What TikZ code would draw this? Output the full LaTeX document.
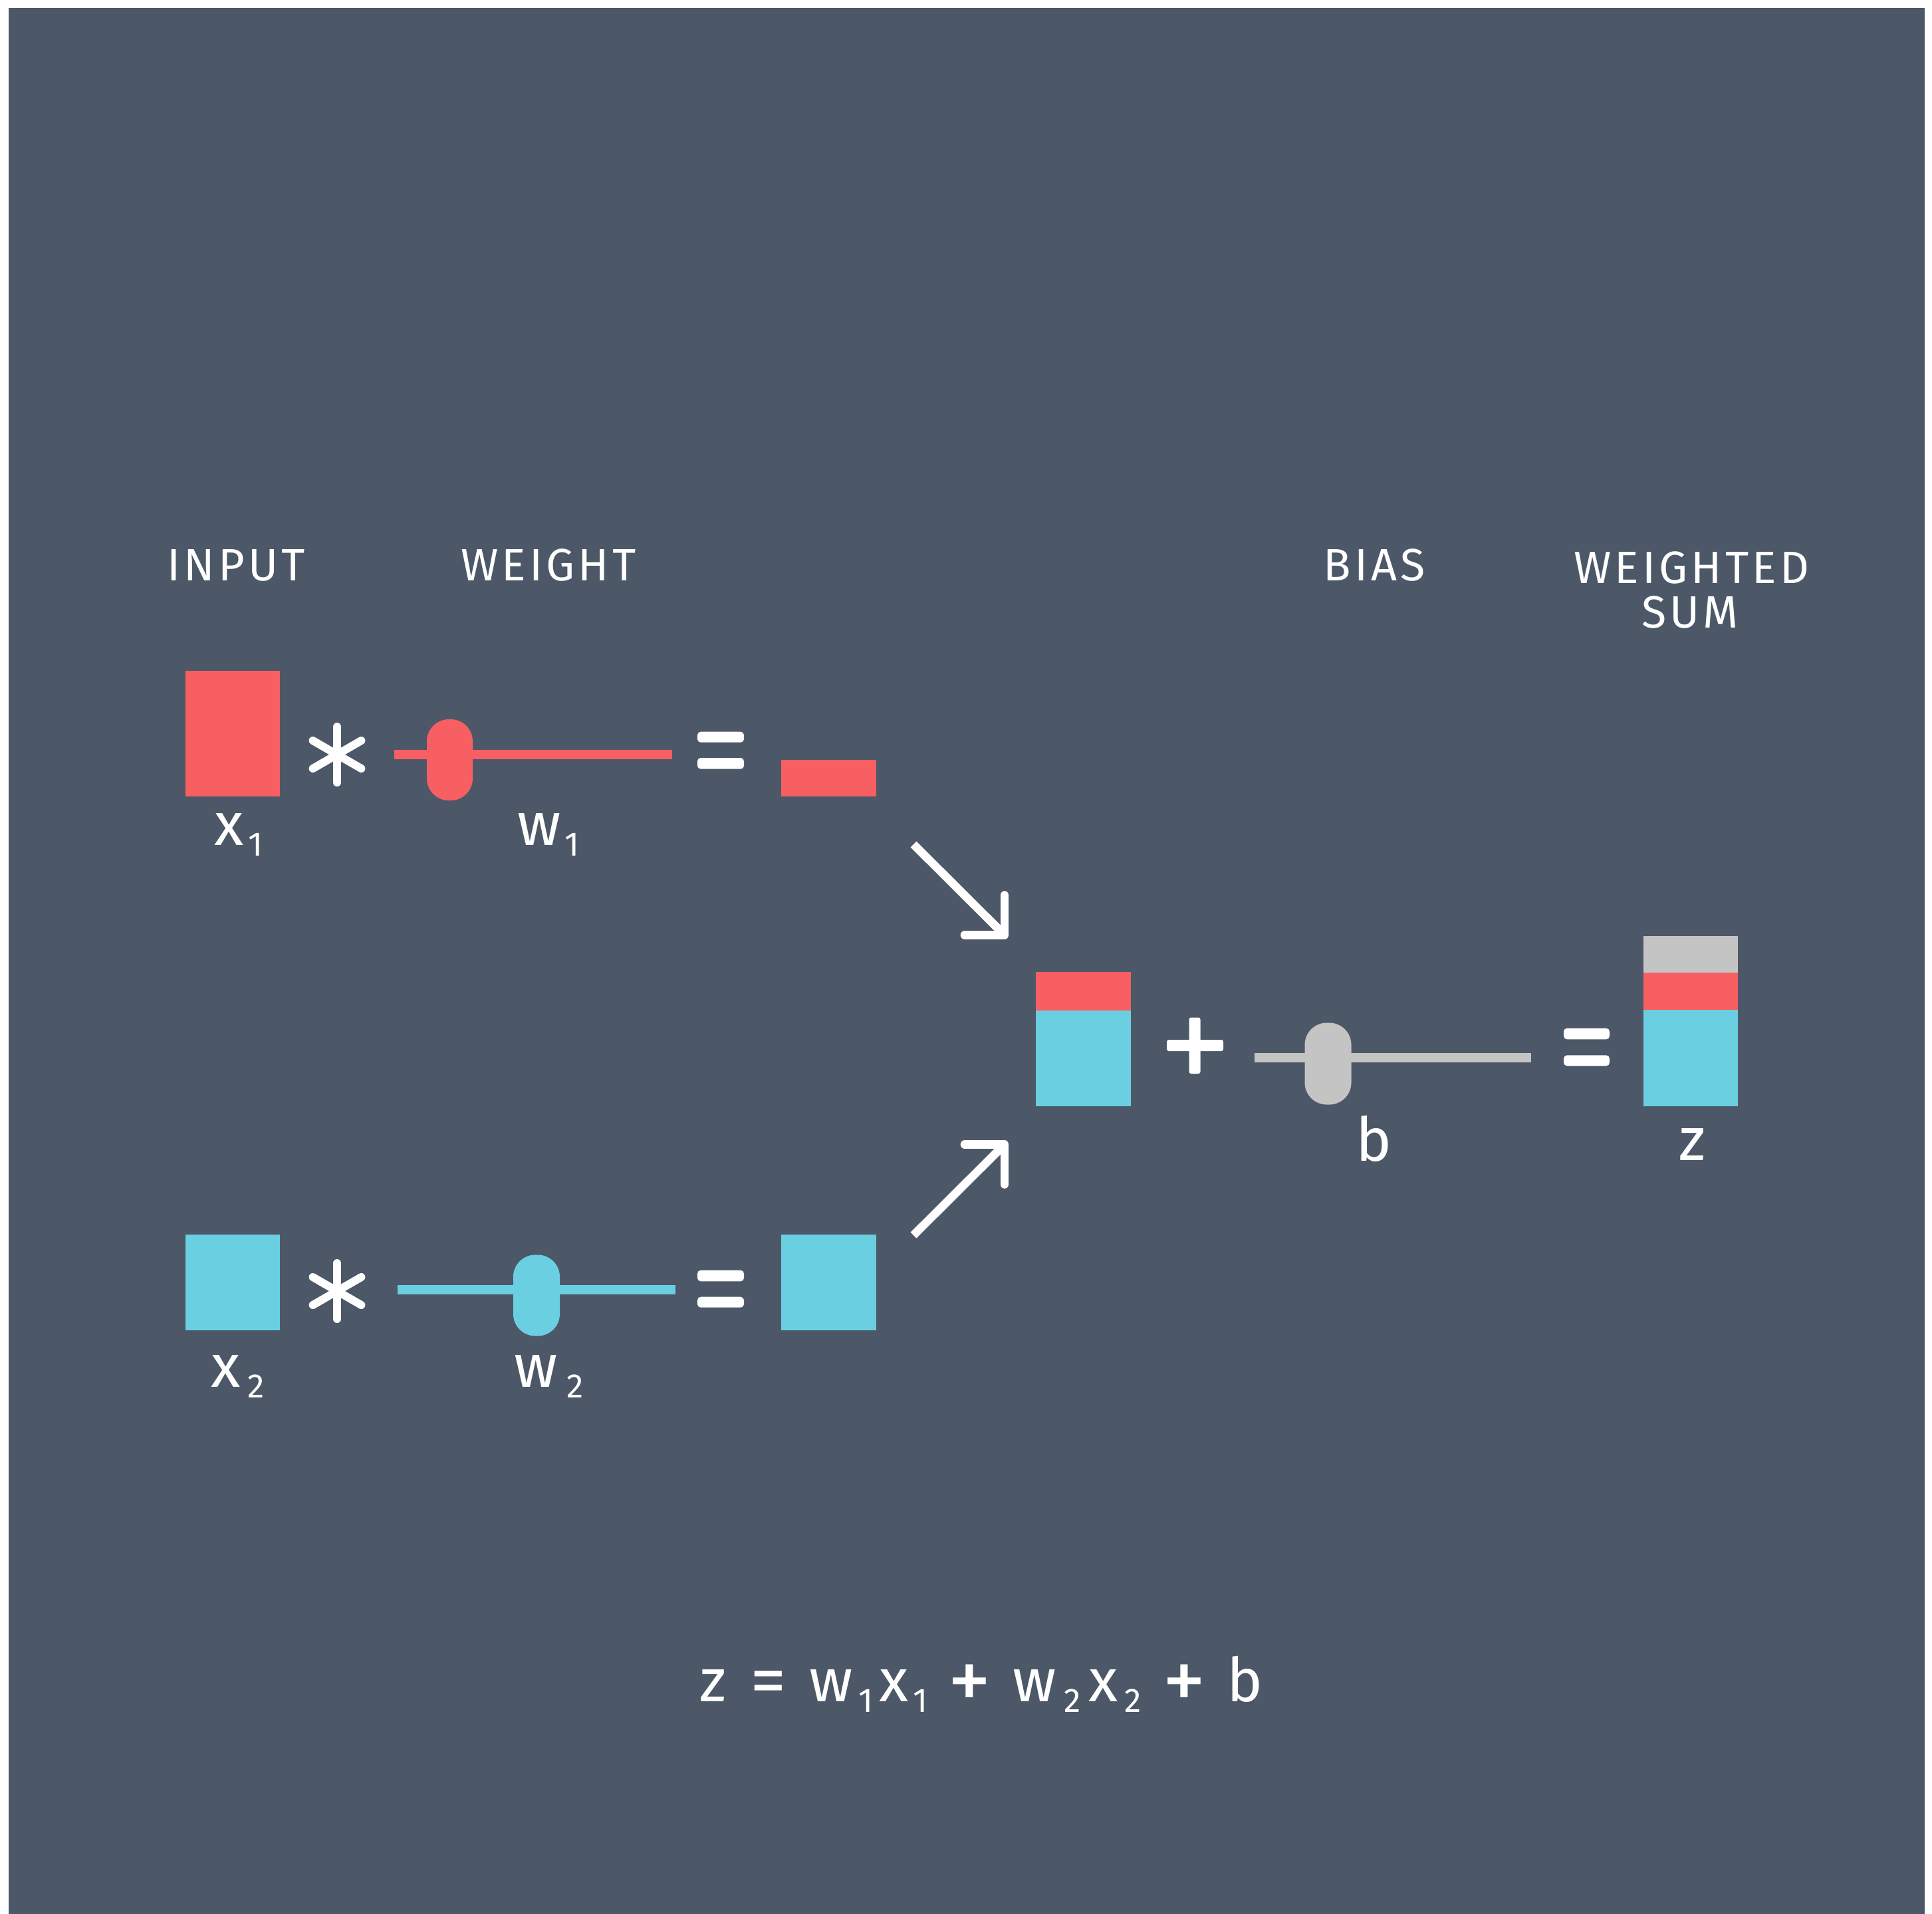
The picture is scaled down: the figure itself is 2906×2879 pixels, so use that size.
\documentclass[tikz,border=0pt]{standalone}
\usepackage{fontspec}
\setmainfont{Fira Sans}
\definecolor{bg}{HTML}{4C5867}
\definecolor{myred}{HTML}{F75F63}
\definecolor{myblue}{HTML}{6ACFE0}
\definecolor{mygray}{HTML}{C4C4C4}
\newcommand\subdig[1]{\raisebox{-4.6pt}{\fontsize{14.5}{16}\selectfont #1}}
\newcommand\gl[1]{\makebox[0pt][c]{#1}}
\newcommand\sd[1]{\makebox[0pt][c]{\subdig{#1}}}
\newcommand\bigop[3]{\makebox[0pt][c]{\raisebox{-#2}{\scalebox{#1}{#3}}}}
\tikzset{
  blockbar/.style={inner sep=0pt, outer sep=0pt, minimum width=1.42cm, draw=none},
  capslabel/.style={font=\fontsize{19.4}{22}\selectfont\addfontfeature{LetterSpace=7.5}, text=white, inner sep=0pt, anchor=base},
  mathlabel/.style={font=\fontsize{25.9}{28}\selectfont, text=white, inner sep=0pt, anchor=base},
  opline/.style={draw=white, line width=0.12cm, line cap=round},
  opbar/.style={fill=white, rounded corners=0.05cm},
  arrowline/.style={draw=white, line width=0.125cm, line cap=butt},
  arrowhead/.style={draw=white, line width=0.125cm, line cap=round, line join=round},
  knob/.style={rounded corners=0.33cm},
}
\begin{document}
\begin{tikzpicture}[x=0.01cm,y=-0.01cm]
\fill[white] (0,0) rectangle (2906,2879);
\useasboundingbox (0,0) rectangle (2906,2879);
\fill[bg] (13,12) rectangle (2895,2879);

% headings
\node[capslabel] (hinput) at (355,873) {INPUT};
\node[capslabel] (hweight) at (825,873) {WEIGHT};
\node[capslabel] (hbias) at (2067,873) {BIAS};
\node[capslabel] (hweighted) at (2544,877.7) {WEIGHTED};
\node[capslabel] (hsum) at (2542,944.3) {SUM};

% row 1
\node[blockbar, fill=myred, minimum height=1.89cm] (x1) at (350,1103.5) {};
\draw[opline] (507,1093) -- (507,1177);
\draw[opline] (470.6,1114) -- (543.4,1156);
\draw[opline] (470.6,1156) -- (543.4,1114);
\fill[myred] (593,1128.3) rectangle (1011,1141.7);
\fill[myred, knob] (642,1082) rectangle (711,1204);
\fill[opbar] (1049,1100.7) rectangle (1119,1116.7);
\fill[opbar] (1049,1140) rectangle (1119,1156.7);
\node[blockbar, fill=myred, minimum height=0.55cm] (r1) at (1246.5,1170.5) {};
\node[mathlabel] (x1lab) at (364.3,1271) {\gl{x}\hspace{11.24pt}\sd{1}};
\node[mathlabel] (w1lab) at (835.8,1271) {\gl{w}\hspace{14.08pt}\sd{1}};

% row 2
\node[blockbar, fill=myblue, minimum height=1.44cm] (x2) at (350,1929) {};
\draw[opline] (507,1900) -- (507,1984);
\draw[opline] (470.6,1921) -- (543.4,1963);
\draw[opline] (470.6,1963) -- (543.4,1921);
\fill[myblue] (598,1933.3) rectangle (1016,1947.3);
\fill[myblue, knob] (772,1887.5) rectangle (842,2009.5);
\fill[opbar] (1049,1910.7) rectangle (1119,1927.3);
\fill[opbar] (1049,1950.7) rectangle (1119,1966.7);
\node[blockbar, fill=myblue, minimum height=1.44cm] (r2) at (1246.5,1929) {};
\node[mathlabel] (x2lab) at (362.4,2086) {\gl{x}\hspace{12.9pt}\sd{2}};
\node[mathlabel] (w2lab) at (835.4,2086) {\gl{w}\hspace{16.7pt}\sd{2}};

% arrows
\coordinate (a1s) at (1374,1270);
\coordinate (a1e) at (1511,1406.5);
\draw[arrowline] (a1s) -- (a1e);
\draw[arrowhead] ([xshift=-0.6cm]a1e) -- (a1e) -- ([yshift=0.6cm]a1e);
\coordinate (a2s) at (1374,1858);
\coordinate (a2e) at (1511,1721.5);
\draw[arrowline] (a2s) -- (a2e);
\draw[arrowhead] ([xshift=-0.6cm]a2e) -- (a2e) -- ([yshift=-0.6cm]a2e);

% sum of products
\node[blockbar, fill=myblue, minimum height=1.442cm, anchor=south] (sumblue) at (1629.5,1663.8) {};
\node[blockbar, fill=myred, minimum height=0.571cm, anchor=south] (sumred) at (sumblue.north) {};

% plus
\fill[opbar, rounded corners=0.03cm] (1788.5,1530.5) rectangle (1805.5,1615);
\fill[opbar, rounded corners=0.03cm] (1755,1564) rectangle (1840,1581);

% bias slider
\fill[mygray] (1887,1584.3) rectangle (2303,1598.3);
\fill[mygray, knob] (1962.5,1538.5) rectangle (2032.5,1661.5);
\node[mathlabel] (blab) at (2066.7,1746.7) {b};

% equals
\fill[opbar] (2352,1546.7) rectangle (2421,1563.3);
\fill[opbar] (2352,1587.3) rectangle (2421,1603.3);

% weighted sum z
\node[blockbar, fill=myblue, minimum height=1.45cm, anchor=south] (zblue) at (2543,1664) {};
\node[blockbar, fill=myred, minimum height=0.56cm, anchor=south] (zred) at (zblue.north) {};
\node[blockbar, fill=mygray, minimum height=0.55cm, anchor=south] (zgray) at (zred.north) {};
\node[mathlabel] (zlab) at (2545,1745.7) {z};

% equation
\node[mathlabel] (eq) at (1472.5,2559) {\gl{z}\hspace{23.61pt}\bigop{1.2}{1.6pt}{=}\hspace{26.74pt}\gl{w}\hspace{14.94pt}\sd{1}\hspace{11.95pt}\gl{x}\hspace{11.52pt}\sd{1}\hspace{20.91pt}\bigop{1.45}{3.7pt}{+}\hspace{27.74pt}\gl{w}\hspace{16.36pt}\sd{2}\hspace{12.94pt}\gl{x}\hspace{12.8pt}\sd{2}\hspace{22.05pt}\bigop{1.45}{3.7pt}{+}\hspace{25.75pt}\gl{b}};
\end{tikzpicture}
\end{document}
